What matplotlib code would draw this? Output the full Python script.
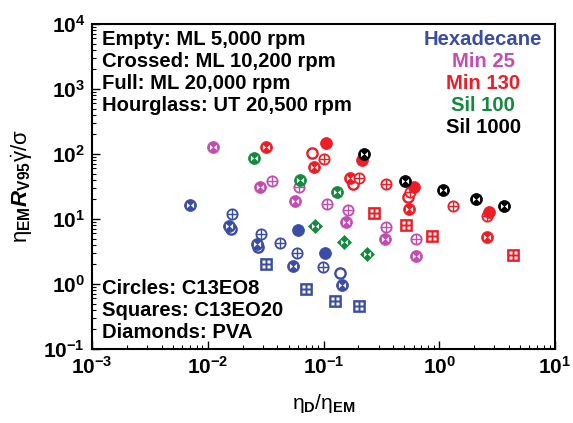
import matplotlib
matplotlib.use("Agg")
import matplotlib.pyplot as plt
from matplotlib.path import Path
import numpy as np

plt.rcParams['font.family'] = ['Liberation Sans', 'DejaVu Sans']
plt.rcParams['mathtext.fontset'] = 'custom'
plt.rcParams['mathtext.rm'] = 'Liberation Sans'
plt.rcParams['mathtext.it'] = 'Liberation Sans:italic'
plt.rcParams['mathtext.bf'] = 'Liberation Sans:bold'
plt.rcParams['mathtext.bfit'] = 'Liberation Sans:italic:bold'
plt.rcParams['mathtext.default'] = 'regular'

# ---------------- data ----------------
# kinds: E=empty circle, C=crossed circle, F=full circle, H=hourglass circle,
#        S=square (C13EO20), D=diamond (PVA)
hexa_x = [0.00703, 0.0159, 0.0162, 0.0153, 0.0271, 0.0288, 0.0266, 0.0421, 0.0603,
          0.059, 0.0545, 0.0318, 0.103, 0.099, 0.139, 0.1445, 0.0706, 0.1256, 0.203]
hexa_y = [16.4, 7.0, 11.9, 7.8, 3.7, 5.9, 4.1, 4.3, 6.8,
          3.0, 1.89, 2.03, 3.0, 1.83, 1.48, 0.965, 0.838, 0.547, 0.459]
hexa_k = ['H', 'E', 'C', 'H', 'E', 'C', 'H', 'C', 'F',
          'C', 'H', 'S', 'F', 'C', 'E', 'H', 'S', 'S', 'S']

min25_x = [0.0111, 0.0282, 0.0359, 0.0614, 0.0568, 0.107, 0.163, 0.156,
           0.347, 0.340, 0.630, 0.630]
min25_y = [128, 31.0, 38.4, 31.0, 18.9, 17.0, 13.8, 9.0,
           7.5, 4.9, 4.9, 2.70]
min25_k = ['H', 'H', 'C', 'C', 'H', 'C', 'C', 'H',
           'C', 'H', 'C', 'H']

sil100_x = [0.0251, 0.0627, 0.131, 0.0845, 0.150, 0.238]
sil100_y = [86.7, 39.8, 26.0, 7.8, 4.4, 2.94]
sil100_k = ['H', 'H', 'H', 'D', 'D', 'D']

min130_x = [0.0318, 0.0796, 0.105, 0.101, 0.0828, 0.215, 0.180, 0.1696, 0.2026,
            0.347, 0.273, 0.516, 0.537, 0.558, 0.605, 0.548, 1.315, 2.585, 2.69,
            2.61, 0.865, 4.34]
min130_y = [128, 104, 148, 83.8, 63.1, 80.8, 34.6, 42.7, 42.7,
            34.6, 12.4, 8.1, 21.8, 26.0, 31.0, 14.3, 15.8, 11.1, 12.8,
            5.3, 5.5, 2.79]
min130_k = ['H', 'E', 'F', 'C', 'H', 'F', 'E', 'H', 'C',
            'C', 'S', 'S', 'E', 'C', 'F', 'H', 'C', 'C', 'F',
            'H', 'S', 'S']

sil1000_x = [0.224, 0.506, 1.077, 2.08, 3.63]
sil1000_y = [100, 38.4, 27.9, 20.3, 15.8]
sil1000_k = ['H', 'H', 'H', 'H', 'H']

series_names = ['Hexadecane', 'Min 25', 'Min 130', 'Sil 100', 'Sil 1000']
series_colors = ['#3A4DA5', '#C24DB1', '#EE1C25', '#138A3E', '#000000']

condition_lines = ['Empty: ML 5,000 rpm', 'Crossed: ML 10,200 rpm',
                   'Full: ML 20,000 rpm', 'Hourglass: UT 20,500 rpm']
surfactant_lines = ['Circles: C13EO8', 'Squares: C13EO20', 'Diamonds: PVA']

x_ticks = [1e-3, 1e-2, 1e-1, 1e0, 1e1]
x_ticklabels = ['-3', '-2', '-1', '0', '1']
y_ticks = [1e-1, 1e0, 1e1, 1e2, 1e3, 1e4]
y_ticklabels = ['-1', '0', '1', '2', '3', '4']

# ---------------- custom marker paths ----------------
bow = Path([(-1, -0.75), (-0.12, 0), (-1, 0.75), (-1, -0.75),
            (1, -0.75), (0.12, 0), (1, 0.75), (1, -0.75)],
           [Path.MOVETO, Path.LINETO, Path.LINETO, Path.CLOSEPOLY] * 2)
a, b = 0.2, 1.0
win_verts, win_codes = [], []
for sx in (-1, 1):
    for sy in (-1, 1):
        xs = sorted([sx * a, sx * b]); ys = sorted([sy * a, sy * b])
        win_verts += [(xs[0], ys[0]), (xs[1], ys[0]), (xs[1], ys[1]), (xs[0], ys[1]), (xs[0], ys[0])]
        win_codes += [Path.MOVETO, Path.LINETO, Path.LINETO, Path.LINETO, Path.CLOSEPOLY]
windows = Path(win_verts, win_codes)

MS = 8.6   # circle diameter (pt)
SQ = 8.0   # square side (pt)
DM = 6.8   # diamond size


def draw_point(ax, x, y, kind, color, z):
    if kind == 'E':
        ax.plot([x], [y], 'o', ms=MS - 1.2, mfc='white', mec=color, mew=1.7, zorder=z)
    elif kind == 'C':
        ax.plot([x], [y], 'o', ms=MS - 1.2, mfc='white', mec=color, mew=1.3, zorder=z)
        ax.plot([x], [y], '+', ms=MS - 1.0, mec=color, mew=1.0, zorder=z + 0.001)
    elif kind == 'F':
        ax.plot([x], [y], 'o', ms=MS, mfc=color, mec=color, mew=0.5, zorder=z)
    elif kind == 'H':
        ax.plot([x], [y], 'o', ms=MS, mfc=color, mec=color, mew=0.5, zorder=z)
        ax.plot([x], [y], marker=bow, ms=MS * 0.6, mfc='white', mec='none', ls='none',
                zorder=z + 0.001)
    elif kind == 'S':
        ax.plot([x], [y], 's', ms=SQ, mfc=color, mec=color, mew=0.5, zorder=z)
        ax.plot([x], [y], marker=windows, ms=SQ * 0.72, mfc='white', mec='none', ls='none',
                zorder=z + 0.001)
    elif kind == 'D':
        ax.plot([x], [y], 'D', ms=DM, mfc=color, mec=color, mew=0.5, zorder=z)
        ax.plot([x], [y], marker=bow, ms=DM * 0.75, mfc='white', mec='none', ls='none',
                zorder=z + 0.001)


fig = plt.figure(figsize=(5.73, 4.23), dpi=100)
ax = fig.add_axes([92 / 573, 1 - 349 / 423, (555 - 92) / 573, (349 - 24) / 423])
ax.set_xscale('log')
ax.set_yscale('log')
ax.set_xlim(1e-3, 1e1)
ax.set_ylim(1e-1, 1e4)

order = [(hexa_x, hexa_y, hexa_k, series_colors[0]),
         (min25_x, min25_y, min25_k, series_colors[1]),
         (sil100_x, sil100_y, sil100_k, series_colors[3]),
         (min130_x, min130_y, min130_k, series_colors[2]),
         (sil1000_x, sil1000_y, sil1000_k, series_colors[4])]
z = 3.0
for xs, ys, ks, col in order:
    for x, y, k in zip(xs, ys, ks):
        draw_point(ax, x, y, k, col, z)
        z += 0.01

for s in ax.spines.values():
    s.set_linewidth(1.5)
ax.tick_params(which='both', direction='in', top=False, right=False)
ax.tick_params(which='major', length=6, width=1.0)
ax.tick_params(which='minor', length=3, width=0.8)
ax.tick_params(axis='x', which='major', pad=5)
ax.tick_params(axis='y', which='major', pad=5)
ax.set_xticks(x_ticks)
ax.set_xticklabels([r'$\mathbf{10^{%s}}$' % t for t in x_ticklabels], fontsize=15)
ax.set_yticks(y_ticks)
ax.set_yticklabels([r'$\mathbf{10^{%s}}$' % t for t in y_ticklabels], fontsize=15)

ax.set_xlabel(r'$\eta_{\mathbf{D}}/\eta_{\mathbf{EM}}$', fontsize=15, labelpad=10)
ax.set_ylabel(r'$\eta_{\mathbf{EM}}\mathbfit{R}_{\mathbf{V95}}\dot{\gamma}/\sigma$',
              fontsize=16, labelpad=6)

fs = 14.6
for i, t in enumerate(condition_lines):
    ax.text(0.022, 0.951 - i * 0.0677, t, transform=ax.transAxes, fontsize=fs,
            fontweight='bold', va='center', ha='left')
for i, (t, c) in enumerate(zip(series_names, series_colors)):
    ax.text(0.845, 0.951 - i * 0.0677, t, transform=ax.transAxes, fontsize=fs,
            fontweight='bold', va='center', ha='center', color=c)
for i, t in enumerate(surfactant_lines):
    ax.text(0.022, 0.185 - i * 0.0677, t, transform=ax.transAxes, fontsize=fs,
            fontweight='bold', va='center', ha='left')

fig.savefig('out.png', dpi=100)
